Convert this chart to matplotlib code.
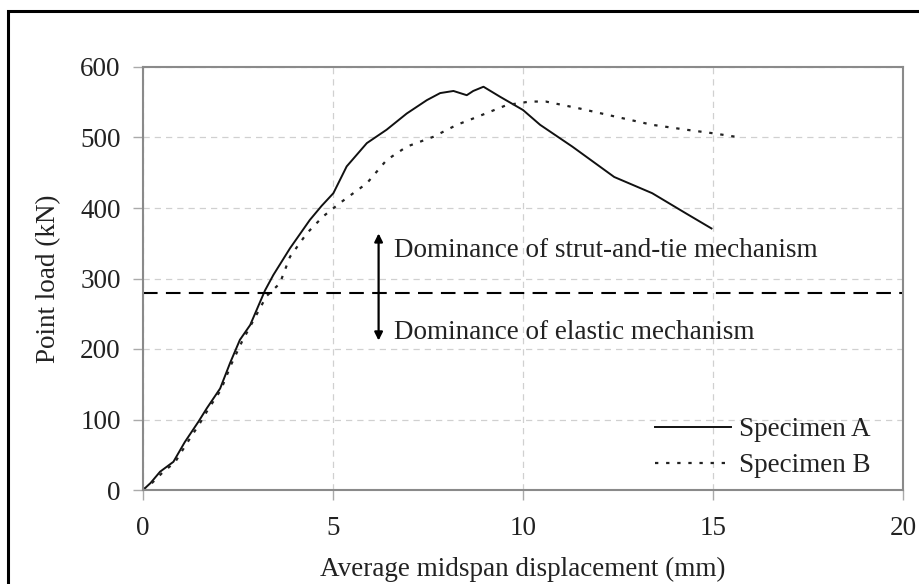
import matplotlib.pyplot as plt
from matplotlib.patches import Rectangle

# Load-displacement readings (mm, kN)
disp_a = [0.0, 0.2, 0.45, 0.8, 1.1, 1.46, 1.68, 2.03, 2.29, 2.55, 2.82, 3.21, 3.43,
          3.87, 4.39, 4.7, 5.01, 5.36, 5.89, 6.41, 6.94, 7.47, 7.82, 8.17, 8.52, 8.69,
          8.96, 9.39, 10.0, 10.45, 11.3, 12.4, 13.4, 14.3, 14.96]
load_a = [0, 10, 26, 40, 68, 97, 116, 144, 180, 213, 234, 283, 305,
          343, 383, 403, 421, 459, 492, 511, 534, 553, 563, 566, 560, 566,
          572, 558, 539, 518, 487, 444, 421, 392, 371]

disp_b = [0.0, 0.2, 0.5, 0.85, 1.15, 1.5, 1.72, 2.05, 2.32, 2.6, 2.9, 3.25, 3.6,
          3.87, 4.31, 4.74, 5.18, 5.89, 6.41, 6.94, 7.64, 8.26, 8.69, 9.57,
          10.18, 10.6, 11.5, 12.4, 13.4, 14.3, 15.0, 15.6]
load_b = [0, 8, 24, 40, 66, 95, 115, 142, 178, 210, 240, 275, 293,
          331, 364, 388, 407, 435, 468, 487, 501, 518, 527, 546,
          551, 551, 541, 530, 518, 511, 506, 501]

threshold = 280
x_ticks = [0, 5, 10, 15, 20]
y_ticks = [0, 100, 200, 300, 400, 500, 600]

plt.rcParams['font.family'] = ['Liberation Serif', 'DejaVu Serif']
text_color = '#222222'
fs = 19.5

fig = plt.figure(figsize=(9.2, 5.84), dpi=100)
ax = fig.add_axes([143 / 920, 1 - 490 / 584, 760 / 920, 423 / 584])

# partial frame around the figure (right/bottom edges fall outside)
fig.patches.append(Rectangle((8 / 920, -0.1), 1.2, 1 - 11 / 584 + 0.1,
                             transform=fig.transFigure, fill=False,
                             edgecolor='black', linewidth=2.2))

ax.plot(disp_a, load_a, color='#111111', linewidth=1.4, label='Specimen A')
ax.plot(disp_b, load_b, color='#222222', linewidth=1.6, linestyle=(0, (1.5, 3.5)),
        label='Specimen B')

ax.axhline(threshold, color='black', linewidth=1.5, linestyle=(0, (7, 4)))

# mechanism annotations
ax.annotate('', xy=(6.2, 364), xytext=(6.2, threshold),
            arrowprops=dict(arrowstyle='-|>', color='black', lw=1.6,
                            mutation_scale=12, shrinkA=0, shrinkB=0))
ax.annotate('', xy=(6.2, 212), xytext=(6.2, threshold),
            arrowprops=dict(arrowstyle='-|>', color='black', lw=1.6,
                            mutation_scale=12, shrinkA=0, shrinkB=0))
ax.text(6.6, 340, 'Dominance of strut-and-tie mechanism', fontsize=fs,
        color=text_color, va='center', ha='left')
ax.text(6.6, 224, 'Dominance of elastic mechanism', fontsize=fs,
        color=text_color, va='center', ha='left')

ax.set_xlim(0, 20)
ax.set_ylim(0, 600)
ax.set_xticks(x_ticks)
ax.set_yticks(y_ticks)
ax.grid(True, color='#d0d0d0', linestyle=(0, (5, 4)), linewidth=0.9)
ax.set_axisbelow(True)
for spine in ax.spines.values():
    spine.set_color('#8a8a8a')
    spine.set_linewidth(1.5)
ax.tick_params(axis='both', colors='#aaaaaa', length=7, width=1,
               labelcolor=text_color, labelsize=fs)
ax.tick_params(axis='x', pad=12)
ax.tick_params(axis='y', pad=9)

ax.set_xlabel('Average midspan displacement (mm)', fontsize=fs, color=text_color,
              labelpad=11)
ax.set_ylabel('Point load (kN)', fontsize=fs, color=text_color, labelpad=14)

ax.legend(loc='lower right', bbox_to_anchor=(0.99, -0.03), frameon=False,
          fontsize=fs, handlelength=2.8, handletextpad=0.3, labelspacing=0.4,
          labelcolor=text_color)

fig.savefig('out.png', dpi=100, facecolor='white')
